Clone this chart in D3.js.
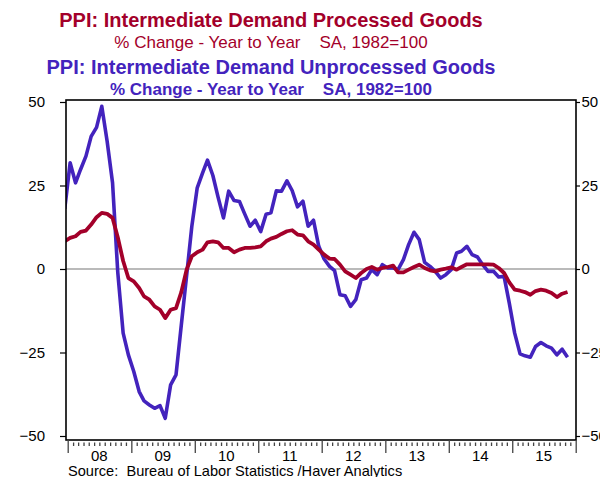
<!DOCTYPE html>
<html>
<head>
<meta charset="utf-8">
<script src="https://cdn.jsdelivr.net/npm/d3@7"></script>
<style>
  body { margin: 0; background: #fff; }
  svg { font-family: Arial, "Liberation Sans", sans-serif; }
  text { white-space: pre; }
</style>
</head>
<body>
<div id="chart"></div>
<script>
// monthly series, Dec 2007 .. Nov 2015 (% change year to year)
const firstMonth = [2007, 11];
const processed = [
    8.3,
    9.3, 9.8, 11.1, 11.5, 13.3, 15.5, 16.8, 16.5, 15.3, 9.5, 2.4, -2.7,
    -3.7, -5.7, -8.2, -9.2, -11.2, -12.2, -14.7, -12.2, -11.7, -7, -0.2, 3.8,
    5, 5.8, 8, 8.3, 8, 6.3, 6.3, 5, 5.8, 6.3, 6.3, 6.5,
    6.8, 8.3, 9.1, 9.6, 10.5, 11.3, 11.6, 10.3, 10.1, 8.3, 7.3, 5.8,
    4.3, 3.1, 3, 1.3, -0.7, -1.7, -2.7, -1.2, 0, 0.6, -0.2, 0.3,
    0.6, 1, -1, -1, -0.2, 0.6, 1.3, 0.3, -0.4, -0.7, -0.2, 0.1,
    0.5, -0.2, 0.6, 1.4, 1.4, 1.4, 1.4, 1.4, 1.3, 0.3, -1.2, -4,
    -6.2, -6.5, -6.9, -7.7, -6.6, -6.2, -6.5, -7.2, -8.4, -7.4, -6.9
];
const unprocessed = [
    18,
    31.8, 25.8, 29.8, 33.8, 39.7, 42.4, 48.7, 38.2, 25.8, -1, -19.2, -25.7,
    -30.7, -36.7, -39.5, -40.7, -41.7, -40.9, -44.7, -34.7, -31.7, -17, -2, 12.8,
    24.3, 28.8, 32.6, 28, 21.5, 15.3, 23.3, 20.5, 20.2, 16.5, 12.8, 14.6,
    11.2, 16.4, 16.8, 23.4, 23.3, 26.4, 23.5, 18.6, 20.3, 12.8, 14.6, 6.8,
    3, 0.8, -0.5, -7.7, -8, -11.2, -9.2, -3.2, -2.7, -0.2, -1.7, 1.3,
    0.3, 0.3, -0.2, 2.8, 7.3, 11, 8.8, 2, 0.8, -0.7, -2.7, -1.7,
    -0.2, 4.8, 5.3, 6.8, 4.3, 3.6, 1.3, -0.7, -0.7, -2.4, -2.2, -10.2,
    -19.2, -25.4, -26, -26.4, -23.2, -22, -23, -23.7, -25.7, -24, -26.4
];
const yTicks = [-50, -25, 0, 25, 50];
const years = [2008, 2009, 2010, 2011, 2012, 2013, 2014, 2015];
const yearLabels = ["08", "09", "10", "11", "12", "13", "14", "15"];

const titles = [
    {text: "PPI: Intermediate Demand Processed Goods", color: "#a3002a", size: 20, weight: "bold", y: 27},
    {text: "% Change - Year to Year    SA, 1982=100", color: "#a3002a", size: 17, weight: "normal", y: 48},
    {text: "PPI: Intermediate Demand Unprocessed Goods", color: "#4323bd", size: 20, weight: "bold", y: 74},
    {text: "% Change - Year to Year    SA, 1982=100", color: "#4323bd", size: 17, weight: "bold", y: 95}
];

const W = 600, H = 477;
const frame = {left: 66, right: 576, top: 100, bottom: 440};

const svg = d3.select("#chart").append("svg")
    .attr("width", W)
    .attr("height", H);

// scales
const x = d3.scaleTime()
    .domain([new Date(2008, 0, 1), new Date(2016, 0, 1)])
    .range([67.7, 575.7]);
const y = d3.scaleLinear()
    .domain([-50, 50])
    .range([436, 102]);

const dates = processed.map((d, i) => new Date(firstMonth[0], firstMonth[1] + i, 15));

// titles
svg.selectAll(".title").data(titles).enter().append("text")
    .attr("class", "title")
    .attr("x", 271)
    .attr("y", d => d.y)
    .attr("text-anchor", "middle")
    .attr("fill", d => d.color)
    .style("font-size", d => d.size + "px")
    .style("font-weight", d => d.weight)
    .text(d => d.text);

// clip to plot frame
svg.append("clipPath").attr("id", "plotclip")
    .append("rect")
    .attr("x", frame.left).attr("y", frame.top)
    .attr("width", frame.right - frame.left)
    .attr("height", frame.bottom - frame.top);

// zero line
svg.append("line")
    .attr("x1", frame.left).attr("x2", frame.right)
    .attr("y1", y(0)).attr("y2", y(0))
    .attr("stroke", "#777")
    .attr("stroke-width", 1.2);

// series
const line = d3.line()
    .x((d, i) => x(dates[i]))
    .y(d => y(d));

const plot = svg.append("g").attr("clip-path", "url(#plotclip)");
plot.append("path")
    .datum(unprocessed)
    .attr("fill", "none")
    .attr("stroke", "#4323bd")
    .attr("stroke-width", 3.6)
    .attr("stroke-linejoin", "round")
    .attr("d", line);
plot.append("path")
    .datum(processed)
    .attr("fill", "none")
    .attr("stroke", "#a3002a")
    .attr("stroke-width", 3.8)
    .attr("stroke-linejoin", "round")
    .attr("d", line);

// frame
svg.append("rect")
    .attr("x", frame.left).attr("y", frame.top)
    .attr("width", frame.right - frame.left)
    .attr("height", frame.bottom - frame.top)
    .attr("fill", "none")
    .attr("stroke", "#000")
    .attr("stroke-width", 1.6);

// y axes
const yLeft = svg.append("g")
    .attr("transform", "translate(" + frame.left + ",0)")
    .call(d3.axisLeft(y).tickValues(yTicks).tickSize(6).tickPadding(15));
const yRight = svg.append("g")
    .attr("transform", "translate(" + frame.right + ",0)")
    .call(d3.axisRight(y).tickValues(yTicks).tickSize(4).tickPadding(1.5));
[yLeft, yRight].forEach(g => {
    g.select(".domain").remove();
    g.selectAll(".tick line").attr("stroke", "#000").attr("stroke-width", 1.2);
    g.selectAll(".tick text")
        .attr("fill", "#000")
        .style("font-size", "15px")
        .style("font-family", "Arial, 'Liberation Sans', sans-serif");
});

// x axis: monthly minor ticks, yearly major ticks
const monthTicks = d3.timeMonth.range(new Date(2008, 0, 1), new Date(2016, 0, 2))
    .filter(d => d.getMonth() !== 0);
const xMinor = svg.append("g")
    .attr("transform", "translate(0," + (frame.bottom + 2.5) + ")")
    .call(d3.axisBottom(x).tickValues(monthTicks).tickSize(3.5).tickFormat(""));
const yearTicks = years.concat([2016]).map(yr => new Date(yr, 0, 1));
const xMajor = svg.append("g")
    .attr("transform", "translate(0," + frame.bottom + ")")
    .call(d3.axisBottom(x).tickValues(yearTicks).tickSize(13).tickFormat(""));
[xMinor, xMajor].forEach(g => {
    g.select(".domain").remove();
    g.selectAll(".tick line").attr("stroke", "#444").attr("stroke-width", 1.3);
});

svg.selectAll(".year-label").data(years).enter().append("text")
    .attr("class", "year-label")
    .attr("x", d => x(new Date(d, 6, 1)))
    .attr("y", 461)
    .attr("text-anchor", "middle")
    .style("font-size", "15px")
    .text((d, i) => yearLabels[i]);

svg.append("text")
    .attr("x", 68)
    .attr("y", 476)
    .style("font-size", "14.6px")
    .text("Source:  Bureau of Labor Statistics /Haver Analytics");
</script>
</body>
</html>
